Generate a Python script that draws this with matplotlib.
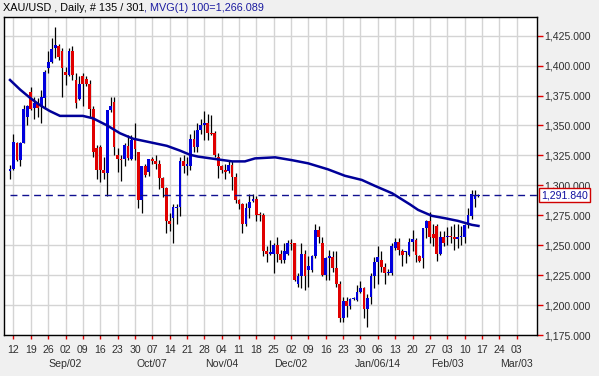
import matplotlib
matplotlib.use("Agg")
import matplotlib.pyplot as plt
import matplotlib.transforms as mtransforms

# Data (XAU/USD daily bars)
opens = [1312, 1314, 1335, 1321, 1335, 1357, 1378, 1365, 1368, 1366,
         1373, 1398, 1403, 1415, 1416, 1412, 1395, 1392, 1412, 1388,
         1372, 1391, 1389, 1385, 1364, 1331, 1332, 1313, 1310, 1363,
         1370, 1325, 1322, 1322, 1333, 1322, 1339, 1328, 1288, 1316,
         1311, 1322, 1320, 1318, 1306, 1298, 1270, 1273, 1281, 1282,
         1320, 1316, 1316, 1339, 1332, 1346, 1350, 1352, 1344, 1344,
         1324, 1316, 1313, 1312, 1317, 1307, 1288, 1284, 1268, 1281,
         1287, 1289, 1276, 1275, 1245, 1243, 1243, 1250, 1243, 1238,
         1243, 1252, 1252, 1218, 1224, 1243, 1229, 1229, 1241, 1263,
         1252, 1225, 1239, 1240, 1231, 1218, 1189, 1203, 1199, 1205,
         1204, 1211, 1214, 1197, 1207, 1224, 1236, 1238, 1232, 1227,
         1227, 1248, 1253, 1245, 1244, 1242, 1253, 1254, 1241, 1239,
         1264, 1270, 1259, 1266, 1243, 1257, 1257, 1258, 1257, 1255,
         1257, 1257, 1267, 1274, 1289, 1291]
highs = [1317, 1343, 1336, 1336, 1367, 1367, 1382, 1374, 1373, 1380,
         1396, 1412, 1423, 1432, 1418, 1415, 1399, 1415, 1416, 1394,
         1391, 1394, 1391, 1388, 1366, 1334, 1334, 1324, 1363, 1374,
         1374, 1331, 1325, 1335, 1342, 1342, 1352, 1328, 1316, 1318,
         1322, 1324, 1325, 1321, 1307, 1299, 1277, 1284, 1284, 1324,
         1325, 1324, 1343, 1346, 1352, 1355, 1362, 1360, 1359, 1345,
         1327, 1317, 1318, 1321, 1320, 1310, 1289, 1285, 1285, 1293,
         1293, 1291, 1278, 1277, 1249, 1254, 1252, 1257, 1246, 1252,
         1254, 1255, 1252, 1227, 1252, 1246, 1241, 1242, 1268, 1266,
         1257, 1240, 1246, 1245, 1245, 1220, 1207, 1207, 1206, 1207,
         1217, 1220, 1215, 1209, 1227, 1240, 1249, 1245, 1235, 1230,
         1252, 1256, 1256, 1247, 1245, 1256, 1263, 1256, 1242, 1264,
         1271, 1278, 1268, 1268, 1262, 1262, 1265, 1266, 1268, 1268,
         1266, 1268, 1281, 1296, 1296, 1293]
lows = [1305, 1313, 1320, 1316, 1335, 1350, 1363, 1355, 1357, 1352,
        1364, 1394, 1402, 1406, 1405, 1374, 1384, 1391, 1388, 1365,
        1371, 1366, 1383, 1357, 1324, 1305, 1303, 1305, 1291, 1361,
        1325, 1311, 1304, 1316, 1321, 1321, 1321, 1281, 1277, 1307,
        1308, 1318, 1314, 1297, 1290, 1260, 1262, 1252, 1268, 1274,
        1310, 1309, 1313, 1328, 1328, 1343, 1338, 1338, 1342, 1324,
        1306, 1310, 1305, 1310, 1296, 1285, 1280, 1260, 1266, 1273,
        1286, 1270, 1270, 1241, 1236, 1242, 1227, 1236, 1235, 1235,
        1242, 1246, 1220, 1215, 1214, 1213, 1215, 1228, 1239, 1252,
        1224, 1221, 1221, 1228, 1215, 1186, 1186, 1190, 1197, 1204,
        1203, 1210, 1189, 1182, 1201, 1214, 1218, 1228, 1218, 1225,
        1225, 1246, 1242, 1233, 1235, 1241, 1245, 1236, 1236, 1231,
        1256, 1252, 1249, 1237, 1242, 1249, 1250, 1252, 1246, 1248,
        1250, 1252, 1264, 1272, 1282, 1290]
closes = [1314, 1336, 1321, 1335, 1364, 1366, 1364, 1369, 1365, 1374,
          1395, 1403, 1414, 1417, 1407, 1398, 1392, 1412, 1392, 1369,
          1385, 1385, 1385, 1364, 1328, 1313, 1313, 1310, 1363, 1366,
          1332, 1322, 1321, 1334, 1323, 1338, 1330, 1288, 1316, 1309,
          1322, 1320, 1318, 1306, 1298, 1270, 1268, 1282, 1282, 1320,
          1316, 1318, 1339, 1332, 1346, 1350, 1352, 1344, 1343, 1325,
          1316, 1313, 1311, 1317, 1307, 1288, 1284, 1268, 1281, 1286,
          1289, 1275, 1275, 1245, 1243, 1244, 1250, 1243, 1238, 1245,
          1252, 1251, 1221, 1224, 1243, 1224, 1233, 1241, 1263, 1257,
          1225, 1239, 1241, 1231, 1218, 1189, 1203, 1199, 1205, 1206,
          1211, 1214, 1197, 1206, 1224, 1236, 1240, 1232, 1227, 1228,
          1249, 1253, 1246, 1242, 1244, 1253, 1255, 1242, 1237, 1264,
          1270, 1257, 1256, 1243, 1257, 1252, 1258, 1257, 1255, 1257,
          1258, 1267, 1275, 1293, 1291, 1291.84]

# 100-period moving average (bar index, value)
ma_idx = [0, 2.9, 5.8, 8.6, 11.5, 14.4, 15.9, 21, 23.9, 28, 31.7, 35.4,
          39.5, 45.2, 49, 51.9, 54.2, 59.1, 64, 67.7, 70.6, 76.4, 81.3,
          85.9, 91.6, 96.5, 101.4, 105.2, 110.1, 115.3, 117.6, 121.6,
          125.4, 129.1, 133.1, 135]
ma_val = [1388, 1380, 1373, 1367, 1362, 1358, 1358, 1358, 1356, 1350,
          1343.5, 1339, 1336.5, 1333, 1329, 1325.5, 1324, 1322, 1320,
          1320, 1322.5, 1323.4, 1321, 1318.4, 1313.4, 1308, 1304.5,
          1299.5, 1293.4, 1284, 1279.5, 1274.5, 1272.5, 1270.3, 1267,
          1266.1]

last_price = 1291.84
day_labels = ["12", "19", "26", "02", "09", "16", "23", "30", "07", "14",
              "21", "28", "04", "11", "18", "25", "02", "09", "16", "23",
              "30", "06", "13", "20", "27", "03", "10", "17", "24", "03"]
month_labels = ["Sep/02", "Oct/07", "Nov/04", "Dec/02", "Jan/06/14",
                "Feb/03", "Mar/03"]
month_weeks = [3, 8, 12, 16, 21, 25, 29]
price_ticks = [1175, 1200, 1225, 1250, 1275, 1300, 1325, 1350, 1375,
               1400, 1425]

# %%
# Figure
plt.rcParams["font.family"] = ["Liberation Sans", "DejaVu Sans"]
fig = plt.figure(figsize=(5.99, 3.76), dpi=100, facecolor="#f0f0f0")
ax = fig.add_axes([4 / 599, 41 / 376, 533 / 599, 318 / 376])
ax.set_facecolor("white")

n = len(closes)
x = list(range(n))
up = "#0000dd"
down = "#e00000"
colors = [up if c >= o else down for o, c in zip(opens, closes)]
bottoms = [min(o, c) for o, c in zip(opens, closes)]
heights = [max(abs(c - o), 0.9) for o, c in zip(opens, closes)]

ax.vlines(x, lows, highs, color="black", linewidth=0.9, zorder=3)
ax.bar(x, heights, bottom=bottoms, width=0.8, color=colors, linewidth=0, zorder=4)

ax.plot(ma_idx, ma_val, color="#000099", linewidth=1.8, zorder=5)
ax.hlines(last_price, 0, 160, color="#101090", linewidth=1,
          linestyles=(0, (5, 3.5)), zorder=5)

week_pos = [1 + 5 * w for w in range(len(day_labels))]
ax.set_xticks(week_pos)
ax.set_xticklabels(day_labels)
ax.set_xlim(-1.73, 151.87)
ax.set_ylim(1175, 1440.6)
ax.yaxis.tick_right()
ax.set_yticks(price_ticks)
ax.set_yticklabels([f"{p:,.3f}" for p in price_ticks])

ax.grid(True, color="#d4d4d4", linewidth=1)
ax.set_axisbelow(True)
ax.tick_params(axis="y", colors="#e00000", labelcolor="#303030", length=4,
               width=1, pad=1, labelsize=7.6)
ax.tick_params(axis="x", colors="#e00000", labelcolor="#303030", length=3,
               width=1, pad=4, labelsize=7.6)
for s in ax.spines.values():
    s.set_color("black")
    s.set_linewidth(1)

trans = mtransforms.blended_transform_factory(ax.transData, ax.transAxes)
for lab, w in zip(month_labels, month_weeks):
    ax.text(1 + 5 * w, -0.092, lab, transform=trans, ha="center", va="center",
            fontsize=7.6, color="#303030")

ax.text(1.008, last_price, f"{last_price:,.3f}", transform=mtransforms.blended_transform_factory(ax.transAxes, ax.transData),
        ha="left", va="center", fontsize=7.6, color="#1010a0",
        bbox=dict(boxstyle="square,pad=0.18", facecolor="white", edgecolor="#d00000", linewidth=1))

t1 = fig.text(3 / 599, 1 - 8 / 376, "XAU/USD , Daily, # 135 / 301", fontsize=7.8,
              color="black", va="center", ha="left")
ax.annotate(", MVG(1) 100=1,266.089", xy=(1, 0.5), xycoords=t1, va="center",
            ha="left", fontsize=7.8, color="#1a1aa0", annotation_clip=False)

fig.savefig("out.png", dpi=100, facecolor=fig.get_facecolor())
